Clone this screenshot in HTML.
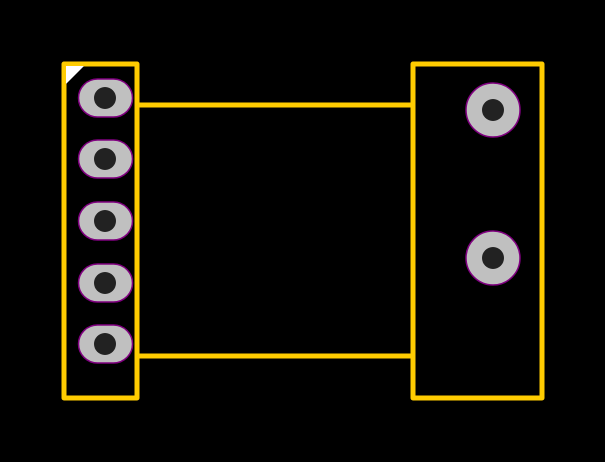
<!DOCTYPE html>
<html><head><style>html,body{margin:0;padding:0;background:#000;width:605px;height:462px;overflow:hidden;}svg{display:block;}</style></head><body>
<svg width="605" height="462" viewBox="0 0 605 462" xmlns="http://www.w3.org/2000/svg">
<rect width="605" height="462" fill="#000"/>
<g fill="none" stroke="#ffcc00" stroke-width="5" stroke-linecap="round" stroke-linejoin="round">
<rect x="64" y="64" width="73" height="334"/>
<rect x="413" y="64" width="129" height="334"/>
<line x1="137" y1="105" x2="413" y2="105"/>
<line x1="137" y1="356" x2="413" y2="356"/>
</g>
<polygon points="66,66 84,66 66,84" fill="#fff"/>
<g fill="#c0c0c0" stroke="#800080" stroke-width="1.5">
<rect x="78.5" y="79" width="54" height="38" rx="19"/>
<rect x="78.5" y="140" width="54" height="38" rx="19"/>
<rect x="78.5" y="202" width="54" height="38" rx="19"/>
<rect x="78.5" y="264" width="54" height="38" rx="19"/>
<rect x="78.5" y="325" width="54" height="38" rx="19"/>
<circle cx="493" cy="110" r="27"/>
<circle cx="493" cy="258" r="27"/>
</g>
<g fill="#222">
<circle cx="105" cy="98" r="11"/>
<circle cx="105" cy="159" r="11"/>
<circle cx="105" cy="221" r="11"/>
<circle cx="105" cy="283" r="11"/>
<circle cx="105" cy="344" r="11"/>
<circle cx="493" cy="110" r="11"/>
<circle cx="493" cy="258" r="11"/>
</g>
</svg>
</body></html>
